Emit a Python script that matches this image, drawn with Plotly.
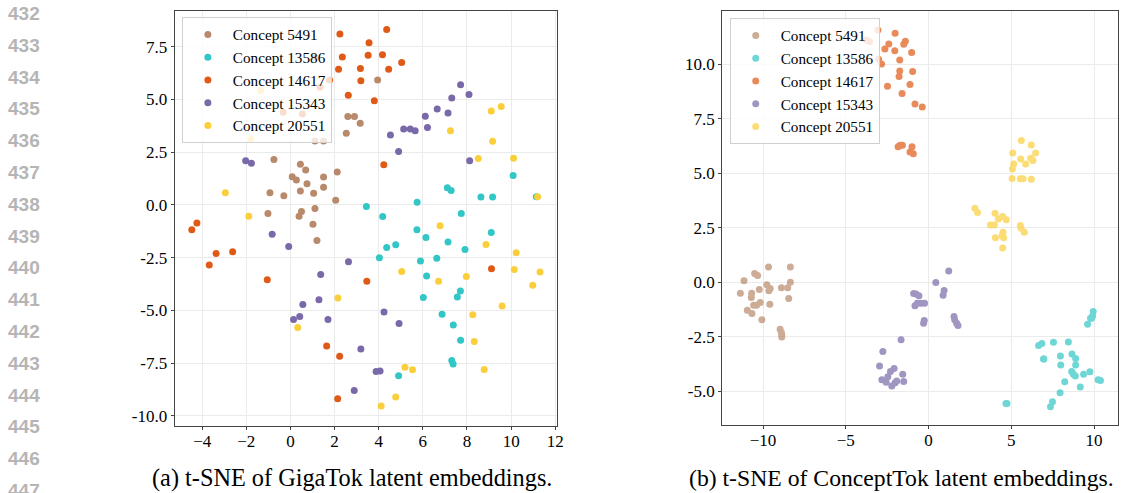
import plotly.graph_objects as go

# ---------------- data ----------------
concepts = ["Concept 5491", "Concept 13586", "Concept 14617", "Concept 15343", "Concept 20551"]
colors = ["#b8896b", "#33c6c6", "#e05a17", "#7a69a9", "#fbcf3b"]

# (a) GigaTok
giga_5491_x = [3.95, 2.60, 2.90, 3.16, 2.53, 1.11, 1.50, -0.75, 0.45, 0.69, 0.08, 0.27, 0.75, 1.50, 2.12,
               -0.93, -0.30, 0.45, 1.05, 1.50, 2.05, -1.02, 0.39, 0.50, 1.11, 1.02, 1.20]
giga_5491_y = [5.92, 4.19, 4.19, 3.87, 3.40, 3.03, 3.03, 2.15, 1.93, 1.66, 1.34, 1.18, 1.00, 1.33, 1.56,
               0.58, 0.43, 0.66, 0.55, 0.84, 0.22, -0.41, -0.54, -0.31, -0.17, -0.91, -1.69]
giga_13586_x = [7.11, 7.28, 10.09, 8.63, 9.16, 11.14, 3.44, 5.74, 4.18, 7.74, 5.73, 6.14, 4.36, 4.77, 4.03,
                5.89, 6.63, 7.14, 7.91, 9.10, 6.17, 7.70, 7.56, 6.02, 6.87, 7.38, 7.71, 7.31, 7.37, 4.90]
giga_13586_y = [0.81, 0.68, 1.39, 0.38, 0.38, 0.39, -0.07, 0.13, -0.55, -0.40, -1.17, -1.54, -2.02, -1.89, -2.50,
                -2.65, -2.52, -1.75, -2.11, -1.31, -3.37, -4.08, -4.36, -4.39, -5.18, -5.69, -6.41, -7.37, -7.54, -8.09]
giga_14617_x = [2.24, 4.36, 3.56, 2.35, 3.52, 4.17, 5.04, 2.18, 3.17, 4.45, 3.19, 2.62, 3.80, 4.23, -4.47,
                -4.24, -3.68, -3.37, -2.62, -1.05, 3.46, 1.64, 2.23, 2.14, 9.11, 1.11, 1.77, 1.34, -0.33, 0.54]
giga_14617_y = [8.10, 8.31, 7.68, 7.01, 7.09, 7.12, 6.75, 6.43, 6.46, 6.43, 5.89, 5.20, 4.94, 1.90, -1.17,
                -0.85, -2.85, -2.30, -2.22, -3.54, -3.61, -6.68, -7.17, -9.18, -3.02, 7.00, 5.92, 5.58, 4.39, 4.31]
giga_15343_x = [7.71, 8.09, 7.31, 6.65, 7.14, 6.11, 6.21, 5.13, 5.43, 5.65, 4.53, 4.90, 8.12, -2.03, -1.77,
                -0.83, -0.08, 2.63, 1.37, 1.29, 0.56, 0.42, 0.14, 1.70, 4.24, 4.92, 3.19, 3.88, 4.06, 2.89]
giga_15343_y = [5.69, 5.23, 5.07, 4.55, 4.36, 4.20, 3.67, 3.60, 3.60, 3.51, 3.32, 2.53, 2.10, 2.09, 1.97,
                -1.39, -1.97, -2.69, -3.29, -4.49, -4.72, -5.28, -5.43, -5.43, -5.07, -5.62, -6.83, -7.89, -7.87, -8.79]
giga_20551_x = [9.55, 9.10, 7.25, 9.16, 10.11, 8.51, 11.20, -1.80, -2.95, -1.89, -1.35, 6.78, 8.86, 10.23, 10.14,
                11.31, 10.98, 5.04, 6.71, 7.97, 2.15, 9.59, 8.26, 8.33, 0.33, 5.19, 5.53, 8.78, 4.77, 4.11]
giga_20551_y = [4.66, 4.45, 3.51, 3.02, 2.21, 2.20, 0.39, 3.11, 0.58, -0.54, 5.42, -0.98, -1.87, -2.27, -3.06,
                -3.18, -3.80, -3.15, -3.62, -3.39, -4.41, -4.79, -5.20, -6.47, -5.81, -7.69, -7.81, -7.80, -9.10, -9.53]

# (b) ConceptTok
ct_5491_x = [-9.67, -8.35, -10.51, -10.33, -11.15, -8.35, -9.77, -9.57, -10.23, -9.65, -8.89, -8.51, -11.37, -10.69,
             -10.71, -8.45, -10.17, -9.59, -10.57, -10.39, -10.95, -10.67, -10.07, -8.97, -8.89, -8.87, -8.87]
ct_5491_y = [0.69, 0.69, 0.40, 0.31, 0.06, 0.00, -0.12, -0.29, -0.34, -0.40, -0.26, -0.26, -0.51, -0.51,
             -0.71, -0.75, -0.94, -1.01, -1.06, -1.06, -1.29, -1.44, -1.73, -2.16, -2.32, -2.42, -2.52]
ct_13586_x = [9.95, 9.91, 9.85, 9.79, 9.61, 6.65, 6.85, 7.55, 8.45, 6.95, 6.97, 7.97, 8.67, 8.89, 8.89,
              7.99, 8.65, 8.75, 8.87, 9.37, 9.75, 10.25, 10.39, 8.23, 9.17, 7.95, 7.49, 7.37, 4.68, 4.74]
ct_13586_y = [-1.35, -1.55, -1.66, -1.66, -1.93, -2.91, -2.82, -2.76, -2.75, -3.53, -3.53, -3.39, -3.30, -3.51, -3.80,
              -3.80, -4.10, -4.23, -4.31, -4.23, -4.11, -4.48, -4.52, -4.57, -4.82, -5.08, -5.49, -5.72, -5.57, -5.57]
ct_14617_x = [-3.06, -3.76, -3.56, -3.02, -2.84, -2.02, -2.40, -2.64, -2.04, -1.40, -1.50, -1.02, -1.74, -1.74,
              -1.78, -0.96, -2.48, -1.12, -1.60, -0.82, -0.38, -1.84, -1.72, -1.58, -1.00, -1.12, -0.92]
ct_14617_y = [11.58, 11.12, 11.04, 10.23, 10.02, 11.43, 10.94, 10.70, 10.63, 11.06, 10.92, 10.54, 10.20, 9.70,
              9.44, 9.67, 9.00, 9.07, 8.66, 8.18, 8.04, 6.22, 6.28, 6.28, 6.22, 5.98, 5.89]
ct_15343_x = [1.22, 0.44, 0.94, 0.88, -0.90, -0.76, -0.58, -0.46, -0.24, -0.68, -0.82, -0.26, -0.30, 1.54, 1.58,
              1.70, 1.78, -1.66, -2.76, -2.96, -2.08, -2.30, -1.56, -2.46, -2.82, -2.56, -2.02, -1.92, -1.50, -2.22]
ct_15343_y = [0.51, -0.02, -0.38, -0.60, -0.52, -0.54, -0.63, -0.97, -0.97, -0.97, -1.09, -1.76, -1.89, -1.58, -1.73,
              -1.89, -1.99, -2.64, -3.19, -3.85, -3.97, -4.10, -4.23, -4.34, -4.48, -4.60, -4.62, -4.54, -4.56, -4.77]
ct_20551_x = [5.61, 6.21, 5.09, 6.47, 5.57, 6.17, 6.31, 5.15, 5.87, 5.07, 5.05, 5.55, 5.71, 6.21, 2.80,
              2.96, 4.02, 4.48, 4.70, 4.22, 3.74, 3.98, 5.55, 5.59, 5.79, 4.50, 4.44, 4.54, 4.04, 4.48]
ct_20551_y = [6.50, 6.30, 5.93, 5.93, 5.65, 5.69, 5.58, 5.42, 5.42, 5.19, 4.76, 4.75, 4.75, 4.72, 3.39,
              3.20, 3.16, 3.01, 2.86, 2.90, 2.62, 2.62, 2.60, 2.47, 2.29, 2.29, 2.13, 2.04, 2.04, 1.57]

giga_x = [giga_5491_x, giga_13586_x, giga_14617_x, giga_15343_x, giga_20551_x]
giga_y = [giga_5491_y, giga_13586_y, giga_14617_y, giga_15343_y, giga_20551_y]
ct_x = [ct_5491_x, ct_13586_x, ct_14617_x, ct_15343_x, ct_20551_x]
ct_y = [ct_5491_y, ct_13586_y, ct_14617_y, ct_15343_y, ct_20551_y]

x_ticks_a = [-4, -2, 0, 2, 4, 6, 8, 10, 12]
y_ticks_a = [-10.0, -7.5, -5.0, -2.5, 0.0, 2.5, 5.0, 7.5]
x_ticks_b = [-10, -5, 0, 5, 10]
y_ticks_b = [-5.0, -2.5, 0.0, 2.5, 5.0, 7.5, 10.0]
caption_a = "(a) t-SNE of GigaTok latent embeddings."
caption_b = "(b) t-SNE of ConceptTok latent embeddings."
line_numbers = list(range(432, 448))

# ---------------- figure ----------------
W, H = 1126, 493
SERIF = "Liberation Serif, Times New Roman, serif"

fig = go.Figure()
for i, name in enumerate(concepts):
    fig.add_trace(go.Scatter(
        x=giga_x[i], y=giga_y[i], mode="markers", name=name,
        marker=dict(color=colors[i], size=7, line=dict(width=0)),
        xaxis="x", yaxis="y", legend="legend"))
for i, name in enumerate(concepts):
    fig.add_trace(go.Scatter(
        x=ct_x[i], y=ct_y[i], mode="markers", name=name, opacity=0.7,
        marker=dict(color=colors[i], size=7, line=dict(width=0)),
        xaxis="x2", yaxis="y2", legend="legend2"))

def px_x(p):
    return p / W

def px_y(p):
    return 1 - p / H

axis_common = dict(
    showgrid=True, gridcolor="#ebebeb", gridwidth=1, zeroline=False,
    showline=True, linecolor="#444444", linewidth=1, mirror=True,
    ticks="outside", ticklen=3, tickcolor="#444444",
    tickfont=dict(family=SERIF, size=17, color="black"),
)

legend_common = dict(
    xanchor="left", yanchor="top",
    bgcolor="rgba(255,255,255,0.8)", bordercolor="#d0d0d0", borderwidth=1,
    font=dict(family=SERIF, size=15.2, color="black"),
    tracegroupgap=0, itemwidth=40, traceorder="normal",
)

fig.update_layout(
    width=W, height=H, autosize=False,
    margin=dict(l=0, r=0, t=0, b=0),
    paper_bgcolor="white", plot_bgcolor="white",
    xaxis=dict(domain=[px_x(175.7), px_x(560.3)], range=[-5.25, 12.07], tickvals=x_ticks_a,
               anchor="y", ticklabelstandoff=-3, **axis_common),
    yaxis=dict(domain=[px_y(425.7), px_y(11)], range=[-10.46, 9.19], tickvals=y_ticks_a,
               ticktext=["%.1f" % v for v in y_ticks_a], anchor="x", **axis_common),
    xaxis2=dict(domain=[px_x(726.7), px_x(1125)], range=[-12.47, 11.45], tickvals=x_ticks_b,
                anchor="y2", ticklabelstandoff=-3, **axis_common),
    yaxis2=dict(domain=[px_y(425), px_y(11)], range=[-6.56, 12.45], tickvals=y_ticks_b,
                ticktext=["%.1f" % v for v in y_ticks_b], anchor="x2", **axis_common),
    legend=dict(x=px_x(183), y=px_y(17), **legend_common),
    legend2=dict(x=px_x(734.3), y=px_y(18), **legend_common),
    showlegend=True,
)

annotations = []
for k, n in enumerate(line_numbers):
    annotations.append(dict(
        text=str(n), x=px_x(24), y=px_y(13.5 + 31.8 * k), xref="paper", yref="paper",
        xanchor="center", yanchor="middle", showarrow=False,
        font=dict(family="Liberation Sans, Arial, sans-serif", size=19, color="#b5b5b5", weight="bold")))
annotations.append(dict(text=caption_a, x=px_x(354), y=px_y(478), xref="paper", yref="paper",
                        xanchor="center", yanchor="middle", showarrow=False,
                        font=dict(family=SERIF, size=24.3, color="black")))
annotations.append(dict(text=caption_b, x=px_x(907), y=px_y(478), xref="paper", yref="paper",
                        xanchor="center", yanchor="middle", showarrow=False,
                        font=dict(family=SERIF, size=23.7, color="black")))
fig.update_layout(annotations=annotations)

fig.write_html("out.html", config={"displayModeBar": False},
               post_script="document.body.style.margin='0px';document.body.style.padding='0px';")
